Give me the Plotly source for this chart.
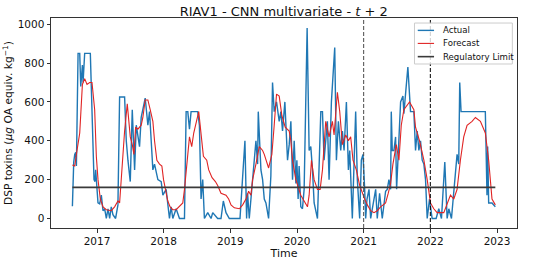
import plotly.graph_objects as go

# Time in decimal years
actual_t = [2016.631, 2016.651, 2016.666, 2016.681, 2016.691, 2016.716, 2016.741, 2016.756, 2016.781, 2016.791,
            2016.815, 2016.900, 2016.955, 2016.970, 2016.980, 2017.015, 2017.040, 2017.065, 2017.090, 2017.115,
            2017.140, 2017.165, 2017.190, 2017.214, 2017.239, 2017.279, 2017.314, 2017.339, 2017.414, 2017.439,
            2017.464, 2017.499, 2017.529, 2017.564, 2017.589, 2017.638, 2017.663, 2017.723, 2017.763, 2017.788,
            2017.813, 2017.838, 2017.863, 2017.913, 2017.963, 2017.988, 2018.037, 2018.087, 2018.112, 2018.137,
            2018.187, 2018.237, 2018.312, 2018.337, 2018.362, 2018.387, 2018.411, 2018.511, 2018.536, 2018.561,
            2018.586, 2018.611, 2018.661, 2018.711, 2018.736, 2018.810, 2018.860, 2018.895, 2018.935, 2018.985,
            2019.145, 2019.219, 2019.244, 2019.259, 2019.284, 2019.334, 2019.384, 2019.409, 2019.419, 2019.459,
            2019.484, 2019.509, 2019.534, 2019.574, 2019.608, 2019.633, 2019.658, 2019.693, 2019.733, 2019.758,
            2019.783, 2019.818, 2019.858, 2019.883, 2019.908, 2019.933, 2019.958, 2019.983, 2019.998, 2020.017,
            2020.032, 2020.057, 2020.082, 2020.107, 2020.152, 2020.182, 2020.207, 2020.232, 2020.257, 2020.307,
            2020.332, 2020.357, 2020.382, 2020.406, 2020.456, 2020.481, 2020.516, 2020.566, 2020.591, 2020.621,
            2020.656, 2020.681, 2020.706, 2020.741, 2020.771, 2020.791, 2020.830, 2020.880, 2020.905, 2020.940,
            2020.965, 2020.990, 2021.015, 2021.030, 2021.050, 2021.080, 2021.105, 2021.180, 2021.204, 2021.239,
            2021.279, 2021.329, 2021.354, 2021.379, 2021.404, 2021.414, 2021.429, 2021.454, 2021.479, 2021.494,
            2021.514, 2021.554, 2021.589, 2021.603, 2021.638, 2021.663, 2021.703, 2021.753, 2021.778, 2021.803,
            2021.828, 2021.853, 2021.878, 2021.903, 2021.928, 2021.953, 2021.988, 2022.027, 2022.087, 2022.127,
            2022.167, 2022.217, 2022.252, 2022.277, 2022.317, 2022.401, 2022.426, 2022.441, 2022.461, 2022.825,
            2022.850, 2022.860, 2022.875, 2022.925, 2022.975]
actual_v = [63, 290, 330, 340, 270, 850, 850, 680, 790, 700,
            850, 850, 200, 190, 250, 80, 75, 120, 40, 50,
            0, 50, 0, 60, 20, 0, 70, 625, 625, 400,
            300, 190, 560, 250, 480, 370, 520, 620, 480, 550,
            400, 250, 280, 200, 190, 120, 150, 0, 60, 0,
            50, 0, 0, 550, 550, 460, 550, 550, 480, 100,
            200, 0, 30, 0, 30, 0, 0, 90, 30, 0,
            0, 400, 0, 130, 0, 200, 400, 280, 550, 250,
            200, 100, 80, 0, 220, 700, 550, 600, 500, 550,
            450, 600, 300, 380, 500, 200, 400, 180, 300, 100,
            270, 60, 50, 150, 980, 350, 370, 250, 80, 0,
            300, 550, 550, 300, 500, 200, 600, 880, 300, 500,
            350, 450, 350, 600, 250, 350, 0, 550, 200, 0,
            300, 330, 150, 0, 100, 150, 0, 150, 0, 130,
            0, 140, 150, 200, 150, 550, 350, 350, 420, 150,
            300, 600, 630, 540, 680, 780, 550, 550, 350, 450,
            350, 400, 300, 280, 200, 0, 100, 0, 0, 50,
            0, 290, 0, 50, 0, 330, 280, 700, 550, 550,
            120, 370, 80, 80, 60]

forecast_t = [2016.631, 2016.666, 2016.691, 2016.741, 2016.781, 2016.815, 2016.850, 2016.890, 2016.925, 2016.965,
              2016.990, 2017.015, 2017.050, 2017.090, 2017.140, 2017.214, 2017.264, 2017.314, 2017.339, 2017.379,
              2017.414, 2017.454, 2017.499, 2017.529, 2017.554, 2017.579, 2017.613, 2017.663, 2017.688, 2017.723,
              2017.763, 2017.798, 2017.838, 2017.863, 2017.898, 2017.938, 2017.973, 2017.998, 2018.022, 2018.062,
              2018.097, 2018.137, 2018.187, 2018.237, 2018.287, 2018.312, 2018.352, 2018.387, 2018.421, 2018.451,
              2018.526, 2018.561, 2018.596, 2018.646, 2018.676, 2018.726, 2018.776, 2018.810, 2018.860, 2018.935,
              2018.975, 2019.010, 2019.060, 2019.135, 2019.185, 2019.234, 2019.274, 2019.309, 2019.334, 2019.384,
              2019.434, 2019.484, 2019.509, 2019.574, 2019.623, 2019.658, 2019.693, 2019.733, 2019.773, 2019.823,
              2019.883, 2019.908, 2019.933, 2019.983, 2020.057, 2020.107, 2020.157, 2020.182, 2020.217, 2020.257,
              2020.307, 2020.347, 2020.382, 2020.431, 2020.481, 2020.531, 2020.556, 2020.606, 2020.641, 2020.681,
              2020.731, 2020.771, 2020.805, 2020.840, 2020.890, 2020.940, 2020.980, 2021.015, 2021.055, 2021.105,
              2021.155, 2021.204, 2021.254, 2021.329, 2021.369, 2021.404, 2021.439, 2021.489, 2021.529, 2021.564,
              2021.603, 2021.688, 2021.753, 2021.778, 2021.838, 2021.903, 2021.953, 2022.002, 2022.052, 2022.102,
              2022.202, 2022.252, 2022.302, 2022.352, 2022.401, 2022.451, 2022.501, 2022.551, 2022.626, 2022.676,
              2022.751, 2022.825, 2022.875, 2022.925, 2022.975]
forecast_v = [275, 270, 330, 440, 690, 720, 690, 700, 700, 560,
              320, 200, 100, 60, 45, 40, 60, 90, 80, 300,
              450, 590, 420, 380, 330, 470, 460, 480, 520, 610,
              610, 560, 500, 400, 300, 280, 270, 200, 150, 90,
              60, 45, 45, 60, 80, 150, 300, 420, 370, 440,
              550, 450, 320, 300, 250, 210, 190, 170, 130, 120,
              100, 70, 55, 50, 70, 100, 140, 120, 200, 280,
              370, 350, 330, 260, 330, 480, 640, 630, 530, 470,
              450, 400, 300, 200, 120, 90, 60, 120, 300, 200,
              150, 150, 250, 500, 420, 500, 430, 650, 550, 380,
              430, 400, 420, 300, 250, 170, 130, 100, 70, 40,
              30, 40, 60, 80, 130, 180, 280, 380, 300, 480,
              560, 600, 560, 470, 400, 300, 200, 80, 50, 30,
              30, 80, 120, 100, 150, 300, 420, 480, 500, 520,
              500, 440, 300, 100, 70]

reg_limit = 160
split_years = [2021, 2022]
x_ticks = [2017, 2018, 2019, 2020, 2021, 2022, 2023]
y_ticks = [0, 200, 400, 600, 800, 1000]
legend_names = ["Actual", "Forecast", "Regulatory Limit"]

colors = ["#1f77b4", "#e02424", "#3a3a3a"]
widths = [1.4, 1.1, 1.6]

fig = go.Figure()
fig.add_trace(go.Scatter(x=actual_t, y=actual_v, mode="lines", name=legend_names[0],
                         line=dict(color=colors[0], width=widths[0])))
fig.add_trace(go.Scatter(x=forecast_t, y=forecast_v, mode="lines", name=legend_names[1],
                         line=dict(color=colors[1], width=widths[1])))
fig.add_trace(go.Scatter(x=[actual_t[0], actual_t[-1]], y=[reg_limit, reg_limit], mode="lines",
                         name=legend_names[2], line=dict(color=colors[2], width=widths[2])))

dash_colors = ["#4a4a4a", "#000000"]
for yr, c in zip(split_years, dash_colors):
    fig.add_shape(type="line", xref="x", yref="y domain", x0=yr, x1=yr, y0=0, y1=1,
                  line=dict(color=c, width=1, dash="4px,2px"), layer="above")

# manual legend (matplotlib-style box)
fig.add_shape(type="rect", xref="paper", yref="paper", x0=0.780, x1=0.990, y0=0.781, y1=0.976,
              line=dict(color="#cccccc", width=1), fillcolor="rgba(255,255,255,0.8)", layer="above")
row_y = [0.941, 0.879, 0.816]
for name, c, w, yy in zip(legend_names, colors, widths, row_y):
    fig.add_shape(type="line", xref="paper", yref="paper", x0=0.787, x1=0.822, y0=yy, y1=yy,
                  line=dict(color=c, width=w), layer="above")
    fig.add_annotation(x=0.837, y=yy, xref="paper", yref="paper", text=name, showarrow=False,
                       xanchor="left", yanchor="middle", font=dict(size=8.6, color="#111111"))

axis_common = dict(showline=True, linecolor="#333333", linewidth=1, mirror=True,
                   ticks="outside", ticklen=3.5, tickcolor="#333333", showgrid=False,
                   zeroline=False, automargin=False, tickfont=dict(size=10.5, color="#111111"))

fig.update_layout(
    width=551, height=262,
    margin=dict(l=51, r=34, t=18, b=34),
    paper_bgcolor="white", plot_bgcolor="white",
    font=dict(family="DejaVu Sans", color="#111111"),
    showlegend=False,
    title=dict(text="RIAV1 - CNN multivariate - <i>t</i> + 2", x=0.515, xanchor="center",
               y=0.958, yanchor="middle", font=dict(size=13), automargin=False),
    xaxis=dict(range=[2016.31, 2023.30], tickvals=x_ticks, ticktext=[str(t) for t in x_ticks],
               title=dict(text="Time", font=dict(size=11), standoff=0), **axis_common),
    yaxis=dict(range=[-49, 1032], tickvals=y_ticks,
               title=dict(text="DSP toxins (<i>μg</i> OA equiv. kg<sup>−1</sup>)", font=dict(size=10.7), standoff=2),
               **axis_common),
)

fig.write_html("out.html", config={"displayModeBar": False, "staticPlot": True},
               post_script="document.body.style.margin='0';document.body.style.overflow='hidden';")
